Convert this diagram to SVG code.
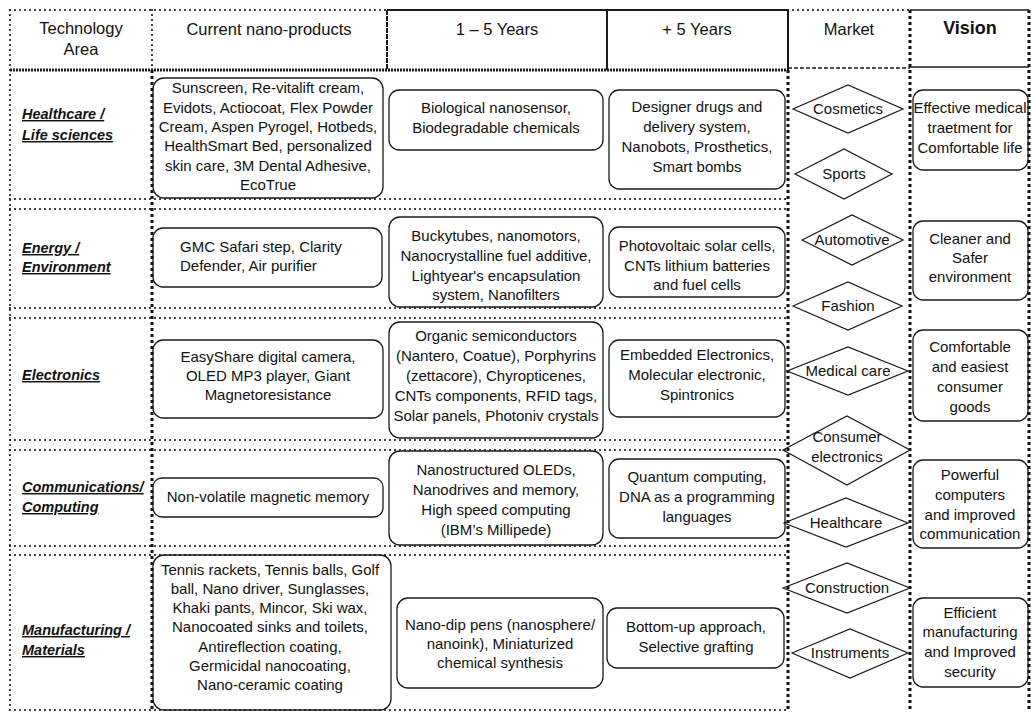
<svg xmlns="http://www.w3.org/2000/svg" width="1031" height="712" viewBox="0 0 1031 712">
<style>
.t{font-family:"Liberation Sans",Arial,sans-serif;font-size:15px;fill:#111;text-anchor:middle}
.l{text-anchor:start}
.h{font-size:16.5px}
.v{font-size:18px;font-weight:bold}
.lab{font-family:"Liberation Sans",Arial,sans-serif;font-size:14.5px;fill:#111;font-weight:bold;font-style:italic;text-decoration:underline}
.box{fill:none;stroke:#1a1a1a;stroke-width:1.3}
.dia{fill:none;stroke:#1a1a1a;stroke-width:1.2}
.dot{fill:none;stroke:#1a1a1a;stroke-width:2.2;stroke-dasharray:0 5;stroke-linecap:round}
.sq{fill:none;stroke:#111;stroke-width:3;stroke-dasharray:3 3}
.sol{fill:none;stroke:#1a1a1a;stroke-width:2}
.thin{fill:none;stroke:#1a1a1a;stroke-width:1.3}
.hb{fill:none;stroke:#1a1a1a;stroke-width:3;stroke-dasharray:2 1}
.db{fill:none;stroke:#1a1a1a;stroke-width:1.6;stroke-dasharray:4 2}
</style>
<rect x="0" y="0" width="1031" height="712" fill="#fff"/>

<g id="grid">
  <line class="dot" x1="10" y1="10" x2="387" y2="10"/>
  <line class="sol" x1="387" y1="10" x2="788" y2="10"/>
  <line class="dot" x1="788" y1="10" x2="910" y2="10"/>
  <line class="thin" x1="910" y1="10" x2="1029" y2="10"/>
  <line class="hb" x1="10" y1="70" x2="788" y2="70"/>
  <line class="db" x1="788" y1="68" x2="910" y2="68"/>
  <line class="thin" x1="910" y1="67" x2="1029" y2="67"/>
  <line class="dot" x1="152" y1="10" x2="152" y2="70"/>
  <line class="sol" x1="387" y1="10" x2="387" y2="70" stroke-dasharray="5 1"/>
  <line class="sol" x1="607" y1="10" x2="607" y2="70"/>
  <line class="sol" x1="788" y1="10" x2="788" y2="70"/>
  <line class="dot" x1="10" y1="10" x2="10" y2="710"/>
  <line class="dot" x1="10" y1="199" x2="788" y2="199"/>
  <line class="dot" x1="10" y1="209" x2="788" y2="209"/>
  <line class="dot" x1="10" y1="308" x2="788" y2="308"/>
  <line class="dot" x1="10" y1="318" x2="788" y2="318"/>
  <line class="dot" x1="10" y1="440" x2="788" y2="440"/>
  <line class="dot" x1="10" y1="450" x2="788" y2="450"/>
  <line class="dot" x1="10" y1="546" x2="788" y2="546"/>
  <line class="dot" x1="10" y1="555" x2="788" y2="555"/>
  <line class="dot" x1="10" y1="710" x2="788" y2="710"/>
  <line class="sq" x1="152" y1="70" x2="152" y2="710"/>
  <line class="sq" x1="788" y1="70" x2="788" y2="710"/>
  <line class="sq" x1="910" y1="10" x2="910" y2="710"/>
  <line class="sq" x1="1029" y1="10" x2="1029" y2="710"/>
</g>

<g id="connectors"></g>

<g id="hdr-tech"><text class="t h" x="81" y="34">Technology</text><text class="t h" x="81" y="55">Area</text></g>
<g id="hdr-current"><text class="t h" x="269" y="35">Current nano-products</text></g>
<g id="hdr-1-5"><text class="t h" x="497" y="35">1 – 5 Years</text></g>
<g id="hdr-5plus"><text class="t h" x="697" y="35">+ 5 Years</text></g>
<g id="hdr-market"><text class="t h" x="849" y="35">Market</text></g>
<g id="hdr-vision"><text class="t v" x="970" y="34">Vision</text></g>

<g id="r1-label"><text class="lab" x="22" y="119">Healthcare /</text><text class="lab" x="22" y="140">Life sciences</text></g>
<g id="r1-current"><rect class="box" x="153" y="78" width="230" height="120" rx="11"/>
<text class="t" x="268" y="93">Sunscreen, Re-vitalift cream,</text>
<text class="t" x="268" y="113">Evidots, Actiocoat, Flex Powder</text>
<text class="t" x="268" y="132">Cream, Aspen Pyrogel, Hotbeds,</text>
<text class="t" x="268" y="151">HealthSmart Bed, personalized</text>
<text class="t" x="268" y="171">skin care, 3M Dental Adhesive,</text>
<text class="t" x="268" y="190">EcoTrue</text></g>
<g id="r1-1-5"><rect class="box" x="389" y="90" width="214" height="60" rx="10"/>
<text class="t" x="496" y="113">Biological nanosensor,</text>
<text class="t" x="496" y="133">Biodegradable chemicals</text></g>
<g id="r1-5plus"><rect class="box" x="609" y="90" width="176" height="99" rx="10"/>
<text class="t" x="697" y="112">Designer drugs and</text>
<text class="t" x="697" y="132">delivery system,</text>
<text class="t" x="697" y="152">Nanobots, Prosthetics,</text>
<text class="t" x="697" y="172">Smart bombs</text></g>
<g id="m-cosmetics"><polygon class="dia" points="793,109 848,85 903,109 848,133"/><text class="t" x="848" y="114">Cosmetics</text></g>
<g id="m-sports"><polygon class="dia" points="795,174 844,149 892,174 844,199"/><text class="t" x="844" y="179">Sports</text></g>
<g id="r1-vision"><rect class="box" x="913" y="90" width="115" height="80" rx="10"/>
<text class="t" x="970" y="113">Effective medical</text>
<text class="t" x="970" y="133">traetment for</text>
<text class="t" x="970" y="153">Comfortable life</text></g>

<g id="r2-label"><text class="lab" x="22" y="253">Energy /</text><text class="lab" x="22" y="272">Environment</text></g>
<g id="r2-current"><rect class="box" x="153" y="228" width="229" height="59" rx="10"/>
<text class="t l" x="180" y="252">GMC Safari step, Clarity</text>
<text class="t l" x="180" y="271">Defender, Air purifier</text></g>
<g id="r2-1-5"><rect class="box" x="389" y="217" width="214" height="90" rx="11"/>
<text class="t" x="496" y="241">Buckytubes, nanomotors,</text>
<text class="t" x="496" y="261">Nanocrystalline fuel additive,</text>
<text class="t" x="496" y="281">Lightyear's encapsulation</text>
<text class="t" x="496" y="300">system, Nanofilters</text></g>
<g id="r2-5plus"><rect class="box" x="609" y="227" width="176" height="70" rx="10"/>
<text class="t" x="697" y="251">Photovoltaic solar cells,</text>
<text class="t" x="697" y="271">CNTs lithium batteries</text>
<text class="t" x="697" y="290">and fuel cells</text></g>
<g id="m-automotive"><polygon class="dia" points="802,240 852,215 903,240 852,265"/><text class="t" x="852" y="245">Automotive</text></g>
<g id="m-fashion"><polygon class="dia" points="793,306 848,282 902,306 848,330"/><text class="t" x="848" y="311">Fashion</text></g>
<g id="r2-vision"><rect class="box" x="913" y="221" width="115" height="79" rx="10"/>
<text class="t" x="970" y="244">Cleaner and</text>
<text class="t" x="970" y="263">Safer</text>
<text class="t" x="970" y="282">environment</text></g>

<g id="r3-label"><text class="lab" x="22" y="380">Electronics</text></g>
<g id="r3-current"><rect class="box" x="153" y="340" width="230" height="78" rx="10"/>
<text class="t" x="268" y="362">EasyShare digital camera,</text>
<text class="t" x="268" y="381">OLED MP3 player, Giant</text>
<text class="t" x="268" y="400">Magnetoresistance</text></g>
<g id="r3-1-5"><rect class="box" x="389" y="322" width="214" height="116" rx="11"/>
<text class="t" x="496" y="341">Organic semiconductors</text>
<text class="t" x="496" y="361">(Nantero, Coatue), Porphyrins</text>
<text class="t" x="496" y="381">(zettacore), Chyropticenes,</text>
<text class="t" x="496" y="401">CNTs components, RFID tags,</text>
<text class="t" x="496" y="421">Solar panels, Photoniv crystals</text></g>
<g id="r3-5plus"><rect class="box" x="609" y="340" width="176" height="77" rx="10"/>
<text class="t" x="697" y="360">Embedded Electronics,</text>
<text class="t" x="697" y="380">Molecular electronic,</text>
<text class="t" x="697" y="400">Spintronics</text></g>
<g id="m-medical"><polygon class="dia" points="787,371 848,347 908,371 848,395"/><text class="t" x="848" y="376">Medical care</text></g>
<g id="m-consumer"><polygon class="dia" points="783,450 847,416 910,450 847,485"/><text class="t" x="847" y="442">Consumer</text><text class="t" x="847" y="462">electronics</text></g>
<g id="r3-vision"><rect class="box" x="913" y="330" width="115" height="91" rx="10"/>
<text class="t" x="970" y="352">Comfortable</text>
<text class="t" x="970" y="372">and easiest</text>
<text class="t" x="970" y="392">consumer</text>
<text class="t" x="970" y="412">goods</text></g>

<g id="r4-label"><text class="lab" x="22" y="492">Communications/</text><text class="lab" x="22" y="512">Computing</text></g>
<g id="r4-current"><rect class="box" x="153" y="478" width="230" height="39" rx="9"/>
<text class="t" x="268" y="502">Non-volatile magnetic memory</text></g>
<g id="r4-1-5"><rect class="box" x="389" y="451" width="214" height="94" rx="11"/>
<text class="t" x="496" y="475">Nanostructured OLEDs,</text>
<text class="t" x="496" y="495">Nanodrives and memory,</text>
<text class="t" x="496" y="515">High speed computing</text>
<text class="t" x="496" y="535">(IBM’s Millipede)</text></g>
<g id="r4-5plus"><rect class="box" x="609" y="459" width="176" height="79" rx="10"/>
<text class="t" x="697" y="482">Quantum computing,</text>
<text class="t" x="697" y="502">DNA as a programming</text>
<text class="t" x="697" y="522">languages</text></g>
<g id="m-healthcare"><polygon class="dia" points="784,523 846,498 908,523 846,547"/><text class="t" x="846" y="528">Healthcare</text></g>
<g id="r4-vision"><rect class="box" x="913" y="460" width="115" height="88" rx="10"/>
<text class="t" x="970" y="480">Powerful</text>
<text class="t" x="970" y="500">computers</text>
<text class="t" x="970" y="520">and improved</text>
<text class="t" x="970" y="539">communication</text></g>

<g id="r5-label"><text class="lab" x="22" y="635">Manufacturing /</text><text class="lab" x="22" y="655">Materials</text></g>
<g id="r5-current"><rect class="box" x="153" y="555" width="238" height="155" rx="11"/>
<text class="t" x="270" y="575">Tennis rackets, Tennis balls, Golf</text>
<text class="t" x="270" y="594">ball, Nano driver, Sunglasses,</text>
<text class="t" x="270" y="613">Khaki pants, Mincor, Ski wax,</text>
<text class="t" x="270" y="632">Nanocoated sinks and toilets,</text>
<text class="t" x="270" y="652">Antireflection coating,</text>
<text class="t" x="270" y="671">Germicidal nanocoating,</text>
<text class="t" x="270" y="690">Nano-ceramic coating</text></g>
<g id="r5-1-5"><rect class="box" x="397" y="598" width="206" height="90" rx="11"/>
<text class="t" x="500" y="630">Nano-dip pens (nanosphere/</text>
<text class="t" x="500" y="649">nanoink), Miniaturized</text>
<text class="t" x="500" y="668">chemical synthesis</text></g>
<g id="r5-5plus"><rect class="box" x="607" y="608" width="177" height="60" rx="10"/>
<text class="t" x="696" y="632">Bottom-up approach,</text>
<text class="t" x="696" y="652">Selective grafting</text></g>
<g id="m-construction"><polygon class="dia" points="783,588 847,563 910,588 847,613"/><text class="t" x="847" y="593">Construction</text></g>
<g id="m-instruments"><polygon class="dia" points="792,653 850,629 908,653 850,678"/><text class="t" x="850" y="658">Instruments</text></g>
<g id="r5-vision"><rect class="box" x="913" y="598" width="115" height="89" rx="10"/>
<text class="t" x="970" y="618">Efficient</text>
<text class="t" x="970" y="637">manufacturing</text>
<text class="t" x="970" y="657">and Improved</text>
<text class="t" x="970" y="677">security</text></g>
</svg>
